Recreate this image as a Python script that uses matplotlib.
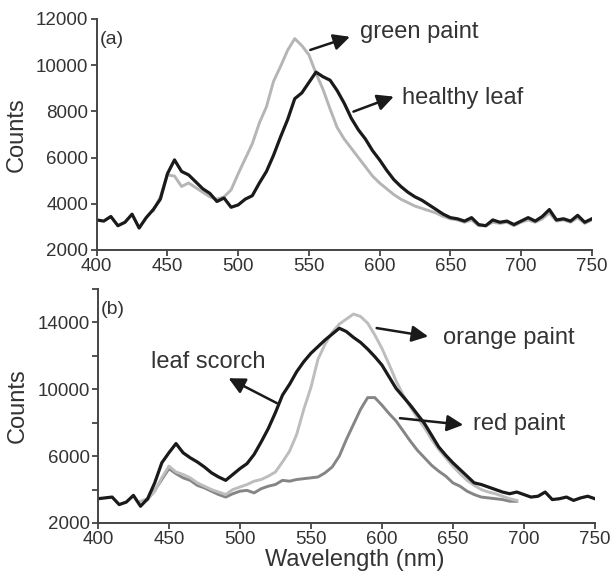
import matplotlib
matplotlib.use('Agg')
import matplotlib.pyplot as plt
import numpy as np

plt.rcParams['font.family'] = ['Liberation Sans', 'DejaVu Sans']

# ---- (a) healthy leaf / green paint ----
wl_a = list(range(400, 755, 5))
healthy_leaf = [3300, 3250, 3450, 3050, 3200, 3550, 2950, 3400, 3750, 4200,
                5300, 5900, 5400, 5250, 4950, 4650, 4450, 4100, 4250, 3850,
                3950, 4200, 4350, 4900, 5400, 6100, 6900, 7650, 8550, 8800,
                9250, 9700, 9500, 9350, 8900, 8350, 7700, 7200, 6800, 6300,
                5900, 5450, 5050, 4750, 4500, 4300, 4150, 3950, 3750, 3550,
                3400, 3350, 3250, 3400, 3100, 3050, 3300, 3200, 3250, 3100,
                3250, 3400, 3250, 3450, 3750, 3300, 3350, 3250, 3500, 3200,
                3350]

wl_green = list(range(440, 755, 5))
green_paint = [3700, 4300, 5250, 5200, 4750, 4900, 4700, 4500, 4300, 4200,
               4300, 4600, 5300, 5950, 6600, 7500, 8200, 9300, 9950, 10650,
               11150, 10850, 10450, 9650, 8950, 8100, 7300, 6800, 6400, 6000,
               5600, 5200, 4900, 4650, 4400, 4200, 4050, 3900, 3800, 3700,
               3600, 3450, 3350, 3300, 3200, 3300, 3050, 3050, 3200, 3150,
               3200, 3050, 3200, 3300, 3200, 3350, 3600, 3250, 3300, 3200,
               3400, 3150, 3300]

# ---- (b) leaf scorch / orange paint / red paint ----
wl_b = list(range(400, 755, 5))
leaf_scorch = [3450, 3500, 3550, 3100, 3250, 3650, 3000, 3450, 4400, 5600,
               6200, 6750, 6200, 5900, 5650, 5350, 5000, 4750, 4550, 4900,
               5250, 5550, 6100, 6850, 7650, 8600, 9650, 10300, 11050, 11650,
               12150, 12550, 12950, 13300, 13650, 13450, 13100, 12800, 12400, 11950,
               11450, 10750, 10050, 9550, 9050, 8500, 7950, 7250, 6550, 6050,
               5600, 5200, 4800, 4400, 4300, 4150, 4000, 3850, 3750, 3850,
               3700, 3550, 3600, 3850, 3400, 3450, 3550, 3350, 3500, 3600,
               3450]

wl_orange = list(range(430, 700, 5))
orange_paint = [3300, 3450, 3900, 4700, 5400, 5050, 4900, 4700, 4400, 4200,
                4000, 3850, 3700, 4000, 4150, 4300, 4500, 4600, 4800, 5050,
                5650, 6300, 7300, 8800, 10100, 11800, 12700, 13400, 13900, 14200,
                14500, 14350, 13950, 13250, 12450, 11500, 10500, 9650, 8950, 8300,
                7700, 7000, 6400, 5900, 5400, 4950, 4550, 4250, 4000, 3850,
                3750, 3600, 3450, 3350]

wl_red = list(range(435, 700, 5))
red_paint = [3400, 3950, 4600, 5250, 4950, 4700, 4550, 4250, 4100, 3900,
             3700, 3550, 3750, 3900, 3950, 3800, 4050, 4200, 4300, 4550,
             4500, 4600, 4650, 4700, 4750, 5000, 5350, 6000, 7000, 7900,
             8800, 9500, 9500, 9050, 8550, 8100, 7500, 6900, 6350, 5900,
             5450, 5100, 4800, 4400, 4200, 3900, 3700, 3550, 3500, 3450,
             3400, 3300, 3300]

xticks = [400, 450, 500, 550, 600, 650, 700, 750]

txt = '#333333'
ax_col = '#444444'
arrow_kw = dict(arrowstyle='-|>,head_width=0.35,head_length=0.7', color='#1a1a1a', lw=1.8,
                shrinkA=0, shrinkB=0, mutation_scale=14)


def style_axes(ax):
    for s in ['top', 'right']:
        ax.spines[s].set_visible(False)
    for s in ['left', 'bottom']:
        ax.spines[s].set_color(ax_col)
        ax.spines[s].set_linewidth(1.4)
    ax.tick_params(direction='out', length=4, width=1.3, color=ax_col,
                   labelsize=13.5, labelcolor=txt, pad=2)
    ax.set_xlim(400, 750)
    ax.set_xticks(xticks)
    ax.set_ylabel('Counts', fontsize=17, color=txt)
    ax.yaxis.set_label_coords(-0.14, 0.5)


fig = plt.figure(figsize=(6.12, 5.74), dpi=100)

# top panel
ax1 = fig.add_axes([0.158, 0.5645, 0.809, 0.4024])
ax1.plot(wl_green, green_paint, color='#b5b5b5', lw=2.1)
ax1.plot(wl_a, healthy_leaf, color='#1a1a1a', lw=2.3)
style_axes(ax1)
ax1.set_ylim(2000, 12000)
ax1.set_yticks(range(2000, 12001, 2000))
ax1.text(402, 11130, '(a)', fontsize=14, color=txt, va='center', ha='left')
ax1.annotate('', xy=(579, 11230), xytext=(551, 10660), arrowprops=arrow_kw)
ax1.text(586, 11165, 'green paint', fontsize=17, color=txt, va='baseline')
ax1.annotate('', xy=(610, 8640), xytext=(581.5, 7990), arrowprops=arrow_kw)
ax1.text(616, 8310, 'healthy leaf', fontsize=17, color=txt, va='baseline')

# bottom panel
ax2 = fig.add_axes([0.160, 0.0889, 0.812, 0.4077])
ax2.plot(wl_red, red_paint, color='#858585', lw=2.1)
ax2.plot(wl_orange, orange_paint, color='#bdbdbd', lw=2.1)
ax2.plot(wl_b, leaf_scorch, color='#1a1a1a', lw=2.3)
style_axes(ax2)
ax2.set_ylim(2000, 16000)
ax2.set_yticks(range(2000, 16001, 2000))
ax2.set_yticklabels(['2000', '', '6000', '', '10000', '', '14000', ''])
ax2.set_xlabel('Wavelength (nm)', fontsize=17, color=txt)
ax2.xaxis.set_label_coords(0.517, -0.112)
ax2.text(402, 14750, '(b)', fontsize=14, color=txt, va='center', ha='left')
ax2.annotate('', xy=(492, 10660), xytext=(526, 9170), arrowprops=arrow_kw)
ax2.text(477.5, 11640, 'leaf scorch', fontsize=17, color=txt, va='center', ha='center')
ax2.annotate('', xy=(632.6, 13160), xytext=(596.3, 13660), arrowprops=arrow_kw)
ax2.text(643, 12700, 'orange paint', fontsize=17, color=txt, va='baseline')
ax2.annotate('', xy=(657.3, 7870), xytext=(612.7, 8270), arrowprops=arrow_kw)
ax2.text(664.5, 7570, 'red paint', fontsize=17, color=txt, va='baseline')

fig.savefig('out.png', dpi=100)
